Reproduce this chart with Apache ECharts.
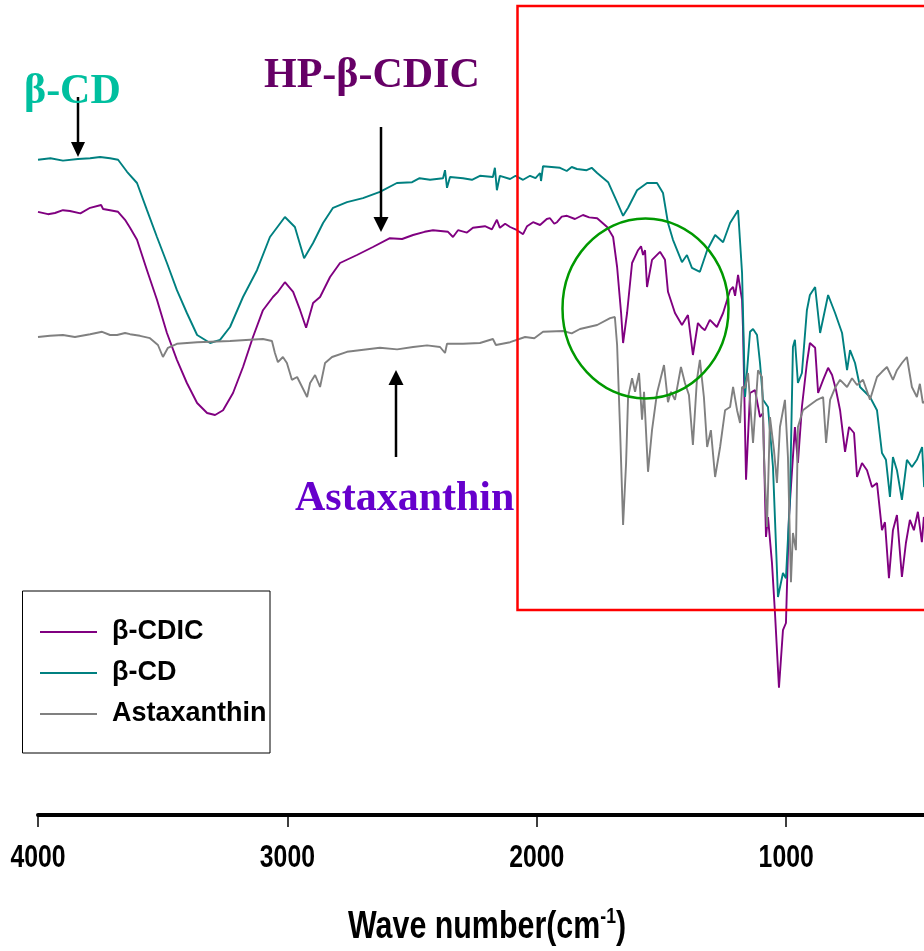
<!DOCTYPE html>
<html>
<head>
<meta charset="utf-8">
<script src="https://cdn.jsdelivr.net/npm/echarts@6/dist/echarts.min.js"></script>
<style>
  html, body { margin: 0; padding: 0; background: #fff; }
  #chart { width: 924px; height: 951px; }
</style>
</head>
<body>
<div id="chart"></div>
<script>
// FT-IR spectra: [wave number (cm-1), transmittance (a.u.)]
const seriesNames = ['β-CDIC', 'β-CD', 'Astaxanthin'];
const seriesColors = ['#800080', '#008080', '#808080'];
const tickValues = [4000, 3000, 2000, 1000];

const cdicSpectrum = [
  [4000,75.4],[3960,75.1],[3932,75.25],[3900,75.6],[3872,75.5],[3830,75.2],[3791,75.9],[3747,76.25],[3739,75.75],[3711,75.6],[3679,75.4],
  [3651,74.4],[3631,73.4],[3603,71.9],[3563,68.1],[3523,64.4],[3483,60.25],[3443,56.9],[3403,54.0],
  [3362,51.5],[3322,50.25],[3290,50.0],[3258,50.6],[3218,52.75],[3178,56.0],[3138,59.75],[3098,63.1],
  [3058,64.75],[3038,65.4],[3010,66.6],[2977,65.4],[2949,63.1],[2925,60.9],[2897,64.0],[2869,64.75],
  [2829,67.25],[2789,69.0],[2721,70.0],[2657,71.0],[2589,72.1],[2540,72.0],[2496,72.5],[2450,72.9],[2416,73.1],[2356,72.9],
  [2336,72.25],[2316,73.1],[2280,72.8],[2256,73.4],[2208,73.6],[2180,73.2],[2160,74.4],[2148,73.4],[2127,73.9],[2107,73.5],
  [2079,73.1],[2055,72.6],[2039,73.6],[2015,74.1],[1987,73.75],[1960,74.5],[1947,74.6],[1930,73.9],[1919,74.1],[1900,74.8],[1879,74.9],
  [1847,74.5],[1815,75.0],[1790,74.7],[1758,74.6],[1718,73.5],[1694,72.25],[1678,68.5],[1662,62.75],[1654,59.0],
  [1638,62.75],[1618,69.0],[1594,70.6],[1582,71.1],[1574,70.0],[1566,70.6],[1558,66.0],[1538,69.4],
  [1506,70.4],[1486,69.4],[1474,65.4],[1446,62.75],[1418,61.25],[1394,62.5],[1374,57.5],[1354,61.5],
  [1338,60.9],[1326,60.6],[1306,61.9],[1278,61.0],[1253,62.75],[1225,65.6],[1213,66.0],[1205,64.9],
  [1193,67.5],[1177,64.4],[1173,60.6],[1161,41.9],[1145,52.75],[1125,53.1],[1105,49.75],[1093,50.25],
  [1081,34.75],[1073,37.25],[1057,31.5],[1045,25.25],[1029,15.9],[1013,23.1],[1001,24.0],[989,37.25],
  [965,48.5],[953,44.0],[937,51.0],[917,56.5],[905,59.0],[884,58.4],[872,52.75],[852,54.4],
  [832,55.9],[816,55.0],[800,53.1],[784,50.6],[764,45.4],[748,48.5],[728,47.75],[716,42.25],
  [696,44.0],[676,43.1],[656,41.0],[636,41.5],[616,35.6],[604,36.6],[588,29.6],[572,35.6],
  [556,37.5],[536,29.75],[520,34.0],[504,36.9],[488,35.6],[472,37.9],[456,34.1],[448,37.25],
  [424,35.6],[400,36.25]
];

const cdSpectrum = [
  [4000,81.9],[3950,82.1],[3900,81.8],[3840,82.0],[3791,82.1],[3751,82.25],[3711,82.1],[3679,81.9],[3643,80.4],[3603,79.0],
  [3563,75.6],[3523,72.25],[3483,69.0],[3443,65.6],[3403,62.75],[3362,60.0],[3310,59.0],[3270,59.4],
  [3230,61.0],[3178,64.75],[3122,68.1],[3070,72.25],[3010,74.75],[2970,73.5],[2933,69.6],[2897,71.5],
  [2857,74.0],[2817,75.9],[2761,76.6],[2697,77.1],[2629,77.9],[2561,79.0],[2500,79.1],[2470,79.6],[2428,79.4],[2376,79.6],
  [2368,80.6],[2360,78.4],[2348,79.75],[2296,79.6],[2260,79.4],[2228,79.9],[2176,79.75],[2168,80.9],[2160,78.1],
  [2148,79.9],[2107,79.5],[2085,79.9],[2055,79.4],[2027,79.9],[2005,79.6],[1987,80.25],[1983,79.25],[1975,81.1],[1907,80.9],
  [1880,80.5],[1860,81.0],[1839,80.75],[1800,80.6],[1780,80.9],[1758,80.25],[1714,79.1],[1678,76.6],[1654,74.9],[1634,75.9],[1598,78.1],[1558,79.0],
  [1518,79.0],[1494,77.75],[1474,74.0],[1454,71.9],[1418,69.1],[1398,70.0],[1378,68.4],[1346,67.9],
  [1317,70.6],[1285,72.5],[1253,71.6],[1225,74.0],[1193,75.6],[1177,67.75],[1165,52.25],[1145,60.4],
  [1133,60.75],[1117,60.0],[1105,56.5],[1093,51.9],[1073,51.0],[1053,43.5],[1033,27.25],[1013,30.25],
  [1001,29.6],[985,39.4],[973,58.5],[965,59.4],[953,54.0],[937,55.25],[917,63.1],[905,65.0],
  [884,66.0],[864,60.25],[832,65.0],[804,62.75],[776,60.25],[756,55.6],[744,58.1],[724,56.5],
  [704,53.5],[664,52.25],[636,50.6],[616,45.25],[600,44.4],[584,39.75],[572,44.75],[556,43.1],
  [536,39.4],[516,44.4],[496,43.5],[476,44.4],[455,46.0],[447,41.0],[423,43.1],[400,42.5]
];

const astaSpectrum = [
  [4000,59.75],[3952,59.9],[3900,60.0],[3852,59.75],[3791,60.1],[3743,60.4],[3711,60.0],[3683,60.0],
  [3651,60.25],[3631,60.1],[3591,59.9],[3551,59.6],[3519,58.75],[3499,57.25],[3479,58.4],[3443,58.9],
  [3362,59.1],[3230,59.25],[3150,59.4],[3098,59.5],[3062,59.25],[3050,57.75],[3038,56.6],[3018,57.25],
  [3002,56.5],[2982,54.4],[2961,54.75],[2941,53.5],[2921,52.25],[2909,54.0],[2889,55.0],[2869,53.5],
  [2849,56.5],[2821,57.25],[2761,57.9],[2629,58.4],[2560,58.2],[2496,58.5],[2440,58.7],[2388,58.5],[2368,57.75],[2360,58.9],
  [2296,58.9],[2228,59.0],[2176,59.5],[2164,58.75],[2107,59.1],[2047,59.75],[2010,59.6],[1975,60.4],[1895,60.5],[1860,60.2],
  [1827,60.75],[1758,61.25],[1706,62.1],[1687,62.25],[1678,58.75],[1666,48.1],[1654,36.25],[1642,44.0],
  [1634,52.25],[1618,54.6],[1606,52.9],[1590,55.25],[1578,49.4],[1570,52.9],[1554,42.9],[1538,48.1],
  [1518,52.75],[1490,56.25],[1474,51.6],[1462,52.9],[1446,51.9],[1422,56.0],[1406,54.0],[1390,52.5],
  [1374,46.25],[1358,54.4],[1346,56.9],[1330,52.25],[1317,46.0],[1302,48.1],[1285,42.25],[1265,46.0],
  [1245,50.6],[1225,51.0],[1213,53.5],[1197,50.6],[1185,49.0],[1177,53.5],[1165,53.4],[1153,55.25],
  [1133,46.5],[1113,55.6],[1097,54.75],[1089,44.75],[1077,36.0],[1065,49.75],[1049,45.6],[1037,41.5],
  [1025,48.5],[1005,51.9],[993,44.75],[981,29.1],[973,35.25],[961,33.1],[953,48.5],[933,50.6],
  [905,51.25],[876,51.9],[852,52.25],[840,46.5],[824,51.9],[804,53.4],[784,54.4],[756,53.5],
  [736,54.6],[716,53.75],[692,54.4],[664,51.9],[636,54.75],[616,55.4],[596,56.0],[572,54.4],
  [556,55.6],[536,56.5],[516,57.25],[496,53.5],[476,52.25],[464,53.9],[452,51.5],[424,52.25],
  [400,51.25]
];

const spectra = [cdicSpectrum, cdSpectrum, astaSpectrum];

const axisTitle = { main: 'Wave number(cm', sup: '-1', close: ')' };
const calloutTexts = { cd: 'β-CD', cdic: 'HP-β-CDIC', asta: 'Astaxanthin' };

const sans = '"Liberation Sans", Arial, sans-serif';
const serif = '"Liberation Serif", "Times New Roman", serif';
const narrow = 0.8; // horizontal squeeze for the narrow sans-serif lettering

const chart = echarts.init(document.getElementById('chart'), null, { renderer: 'canvas' });

function arrow(x, y1, y2, headLen, headHalf) {
  // vertical arrow from y1 to tip y2
  const dir = y2 > y1 ? 1 : -1;
  const base = y2 - dir * headLen;
  return [
    { type: 'line', z: 100, shape: { x1: x, y1: y1, x2: x, y2: base + dir * 2 },
      style: { stroke: '#000', lineWidth: 2.5 } },
    { type: 'polygon', z: 100, shape: { points: [[x - headHalf, base], [x + headHalf, base], [x, y2]] },
      style: { fill: '#000' } }
  ];
}

const option = {
  animation: false,
  backgroundColor: '#ffffff',
  grid: { left: 38, top: 15, width: 997.6, height: 800, containLabel: false, outerBoundsMode: 'none' },
  xAxis: {
    type: 'value',
    min: 0,
    max: 4000,
    interval: 1000,
    inverse: true,
    position: 'bottom',
    axisLine: { show: true, onZero: false, lineStyle: { color: '#000', width: 4 } },
    axisTick: { show: true, length: 12, lineStyle: { color: '#000', width: 1.5 } },
    axisLabel: { show: false },
    splitLine: { show: false }
  },
  yAxis: { type: 'value', min: 0, max: 100, show: false },
  legend: {
    orient: 'vertical',
    left: 35,
    top: 612,
    itemWidth: 57,
    itemHeight: 2,
    itemGap: 11,
    icon: 'rect',
    data: seriesNames,
    textStyle: { fontFamily: sans, fontWeight: 'bold', fontSize: 27, color: '#000',
                 lineHeight: 30, padding: [0, 0, 0, 10] }
  },
  series: seriesNames.map((name, i) => ({
    name: name,
    type: 'line',
    data: spectra[i],
    showSymbol: false,
    symbol: 'none',
    color: seriesColors[i],
    lineStyle: { color: seriesColors[i], width: 1.9 },
    z: 2 + i
  })),
  graphic: [
    // legend frame
    { id: 'legendFrame', type: 'rect', z: 100, shape: { x: 22.5, y: 591, width: 247.5, height: 162 },
      style: { fill: null, stroke: '#000', lineWidth: 1 } },
    // highlighted fingerprint region
    { type: 'rect', z: 100, shape: { x: 517.5, y: 6, width: 520, height: 604 },
      style: { fill: null, stroke: '#ff0000', lineWidth: 2.5 } },
    // carbonyl band region
    { type: 'ellipse', z: 100, shape: { cx: 645.5, cy: 308.5, rx: 83, ry: 90 },
      style: { fill: null, stroke: '#009900', lineWidth: 2.5 } },
    ...arrow(78, 97, 157, 15, 7),
    ...arrow(381, 127, 232, 15, 7.5),
    ...arrow(396, 457, 370, 15, 7.5),
    { type: 'text', z: 100, style: { x: 24, y: 92, text: calloutTexts.cd, fill: '#00bf9f',
      font: 'bold 42px ' + serif, verticalAlign: 'middle' } },
    { type: 'text', z: 100, style: { x: 264, y: 76, text: calloutTexts.cdic, fill: '#660066',
      font: 'bold 42px ' + serif, verticalAlign: 'middle' } },
    { type: 'text', z: 100, style: { x: 295, y: 499, text: calloutTexts.asta, fill: '#6600cc',
      font: 'bold 42px ' + serif, verticalAlign: 'middle' } },
    // axis title with superscript
    { type: 'text', z: 100, x: 348, y: 906, scaleX: narrow, style: {
        x: 0, y: 0,
        text: '{m|' + axisTitle.main + '}{s|' + axisTitle.sup + '}{m|' + axisTitle.close + '}',
        rich: {
          m: { fontFamily: sans, fontWeight: 'bold', fontSize: 38, lineHeight: 44, fill: '#000' },
          s: { fontFamily: sans, fontWeight: 'bold', fontSize: 22, lineHeight: 22, fill: '#000', verticalAlign: 'top' }
        }
      } }
  ]
};

chart.setOption(option);

// tick labels in narrow lettering, placed through the x axis scale
const tickLabelGraphics = tickValues.map((v, i) => {
  const px = chart.convertToPixel({ xAxisIndex: 0 }, v);
  return {
    id: 'tick' + i, type: 'text', z: 100, x: px, y: 858, scaleX: narrow,
    style: { x: 0, y: 0, text: String(v), fill: '#000', font: 'bold 31px ' + sans,
             align: 'center', verticalAlign: 'middle' }
  };
});
chart.setOption({ graphic: tickLabelGraphics });
</script>
</body>
</html>
